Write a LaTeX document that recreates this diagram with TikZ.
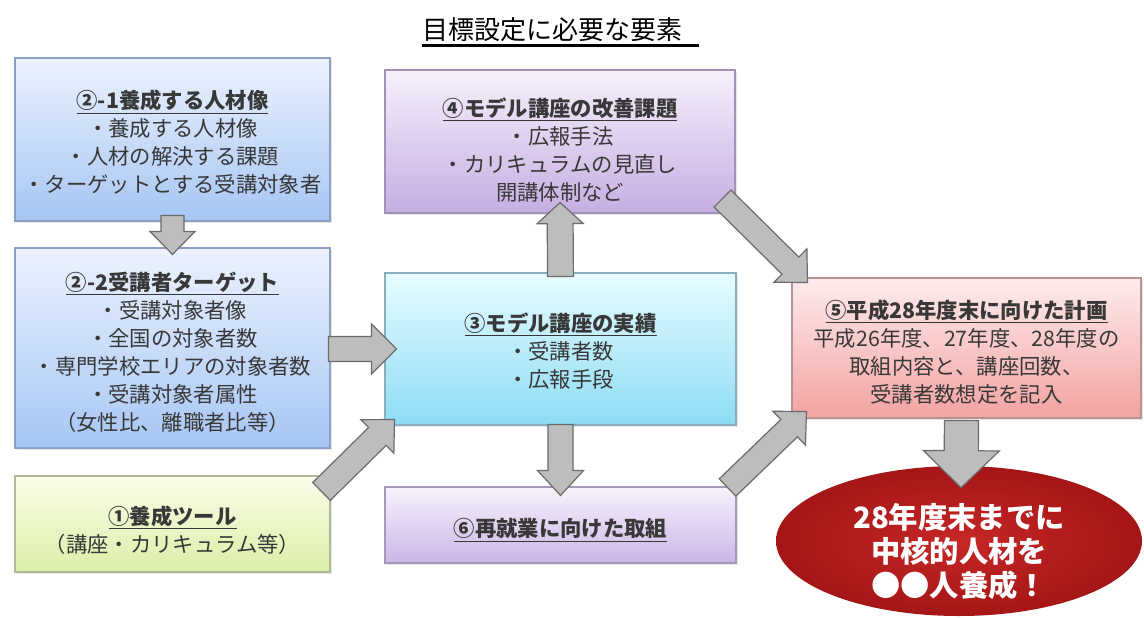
\documentclass[tikz,border=0pt]{standalone}
\usepackage{fontspec}
\setmainfont{Noto Sans CJK JP}
\usetikzlibrary{calc,shapes.geometric,shadows}
\definecolor{btwotop}{HTML}{ECF2FD}\definecolor{btwobot}{HTML}{A6C6F4}\definecolor{btwobd}{HTML}{8AA0C4}
\definecolor{bonetop}{HTML}{FAFDE9}\definecolor{bonebot}{HTML}{DCEFA8}\definecolor{bonebd}{HTML}{B0B898}
\definecolor{bfourtop}{HTML}{F6F0FB}\definecolor{bfourbot}{HTML}{C6AEE2}\definecolor{bfourbd}{HTML}{A092B8}
\definecolor{bthreetop}{HTML}{E8FCFF}\definecolor{bthreebot}{HTML}{8CDCF4}\definecolor{bthreebd}{HTML}{8AAEBC}
\definecolor{bsixtop}{HTML}{F7F2FC}\definecolor{bsixbot}{HTML}{CBB6E6}\definecolor{bsixbd}{HTML}{A598B8}
\definecolor{bfivetop}{HTML}{FDECEC}\definecolor{bfivebot}{HTML}{F4A2A2}\definecolor{bfivebd}{HTML}{B89292}
\definecolor{ellin}{HTML}{C62626}\definecolor{ellout}{HTML}{A51616}
\definecolor{txt}{HTML}{383838}
\definecolor{arrfill}{HTML}{BDBDBD}\definecolor{arrline}{HTML}{6B6B6B}
\newcommand\hd[2][0pt]{\rule{0pt}{#1}\textbf{\underline{#2}}}
\newcommand\blockarrow[5]{%
  \filldraw[barrow] let \p1=#1, \p2=#2, \n1={atan2(\y2-\y1,\x2-\x1)} in
   ($(\p1)+(\n1+90:#3)$) -- ($(\p2)+(\n1+180:#5)+(\n1+90:#3)$) -- ($(\p2)+(\n1+180:#5)+(\n1+90:#4)$) -- (\p2)
   -- ($(\p2)+(\n1+180:#5)+(\n1-90:#4)$) -- ($(\p2)+(\n1+180:#5)+(\n1-90:#3)$) -- ($(\p1)+(\n1-90:#3)$) -- cycle;}
\tikzset{
  box/.style={draw=#1, line width=0.8pt, inner sep=0pt, align=center, text=txt,
    font=\fontsize{16pt}{21pt}\selectfont,
    drop shadow={opacity=0.18, shadow xshift=1.2pt, shadow yshift=-1.2pt}},
  boxsz/.style 2 args={minimum width=#1*0.75pt, minimum height=#2*0.75pt},
  barrow/.style={fill=arrfill, draw=arrline, line width=0.9pt, line join=miter}
}
\begin{document}
\begin{tikzpicture}[x=0.75pt,y=-0.75pt]
\useasboundingbox[fill=white] (0,0) rectangle (1144,617);
% title
\node[inner sep=0pt, font=\fontsize{19.5pt}{22pt}\selectfont, text=black] (title) at (552,30) {目標設定に必要な要素};
\draw[line width=2pt] ($(title.base west)+(0,6)$) -- ($(title.base east)+(17,6)$);
% boxes
\node[box=btwobd, top color=btwotop, bottom color=btwobot, boxsz={315}{163}] (b21) at (172.5,139.5)
  {\hd[18.5pt]{②-1養成する人材像}\\・養成する人材像\\・人材の解決する課題\\・ターゲットとする受講対象者};
\node[box=btwobd, top color=btwotop, bottom color=btwobot, boxsz={315}{200}] (b22) at (172.5,348)
  {\hd[20pt]{②-2受講者ターゲット}\\・受講対象者像\\・全国の対象者数\\・専門学校エリアの対象者数\\・受講対象者属性\\（女性比、離職者比等）};
\node[box=bonebd, top color=bonetop, bottom color=bonebot, boxsz={315}{96}] (b1) at (172.5,524)
  {\hd[23pt]{①養成ツール}\\（講座・カリキュラム等）};
\node[box=bfourbd, top color=bfourtop, bottom color=bfourbot, boxsz={350}{143}] (b4) at (560,141.5)
  {\hd[27pt]{④モデル講座の改善課題}\\・広報手法\\・カリキュラムの見直し\\開講体制など};
\node[box=bthreebd, top color=bthreetop, bottom color=bthreebot, boxsz={351}{152}] (b3) at (560.5,349)
  {\hd[17pt]{③モデル講座の実績}\\・受講者数\\・広報手段};
\node[box=bsixbd, top color=bsixtop, bottom color=bsixbot, boxsz={351}{76}] (b6) at (560.5,525)
  {\hd[21.5pt]{⑥再就業に向けた取組}};
\node[box=bfivebd, top color=bfivetop, bottom color=bfivebot, boxsz={349}{140}] (b5) at (966.5,348)
  {\hd[20pt]{⑤平成28年度末に向けた計画}\\平成26年度、27年度、28年度の\\取組内容と、講座回数、\\受講者数想定を記入};
% goal ellipse
\node[ellipse, minimum width=366*0.75pt, minimum height=150*0.75pt, inner sep=0pt,
  inner color=ellin, outer color=ellout] (goal) at (959,541) {};
\node[align=center, text=white, font=\fontsize{22pt}{25.5pt}\selectfont\bfseries, inner sep=0pt]
  (goaltxt) at ($(goal.center)+(0,11)$) {28年度末までに\\中核的人材を\\●●人養成！};
% block arrows
\blockarrow{($(b21.south)+(0,-6)$)}{($(b22.north)+(0,7)$)}{8.6pt}{16.9pt}{17.3pt}
\blockarrow{($(b22.east)+(-2,1)$)}{($(b3.west)+(12,0)$)}{9.4pt}{18.8pt}{18.8pt}
\blockarrow{($(b1.north east)+(-9,16)$)}{($(b3.south west)+(10,-6)$)}{9.4pt}{17.6pt}{18pt}
\blockarrow{($(b3.north)+(0,4)$)}{($(b4.south)+(0,-11)$)}{9.7pt}{17.3pt}{15.8pt}
\blockarrow{($(b3.south)+(0,-1)$)}{($(b6.north)+(0,9)$)}{9.4pt}{17.3pt}{18.8pt}
\blockarrow{($(b4.south east)+(-13,-15)$)}{($(b5.north west)+(16,5)$)}{9pt}{17.6pt}{18pt}
\blockarrow{($(b6.north east)+(-9,1)$)}{($(b5.south west)+(15,-7)$)}{9pt}{17.6pt}{18pt}
\blockarrow{($(b5.south)+(-5,2)$)}{($(goal.north)+(2,22)$)}{12.8pt}{28.5pt}{27.8pt}
\end{tikzpicture}
\end{document}
